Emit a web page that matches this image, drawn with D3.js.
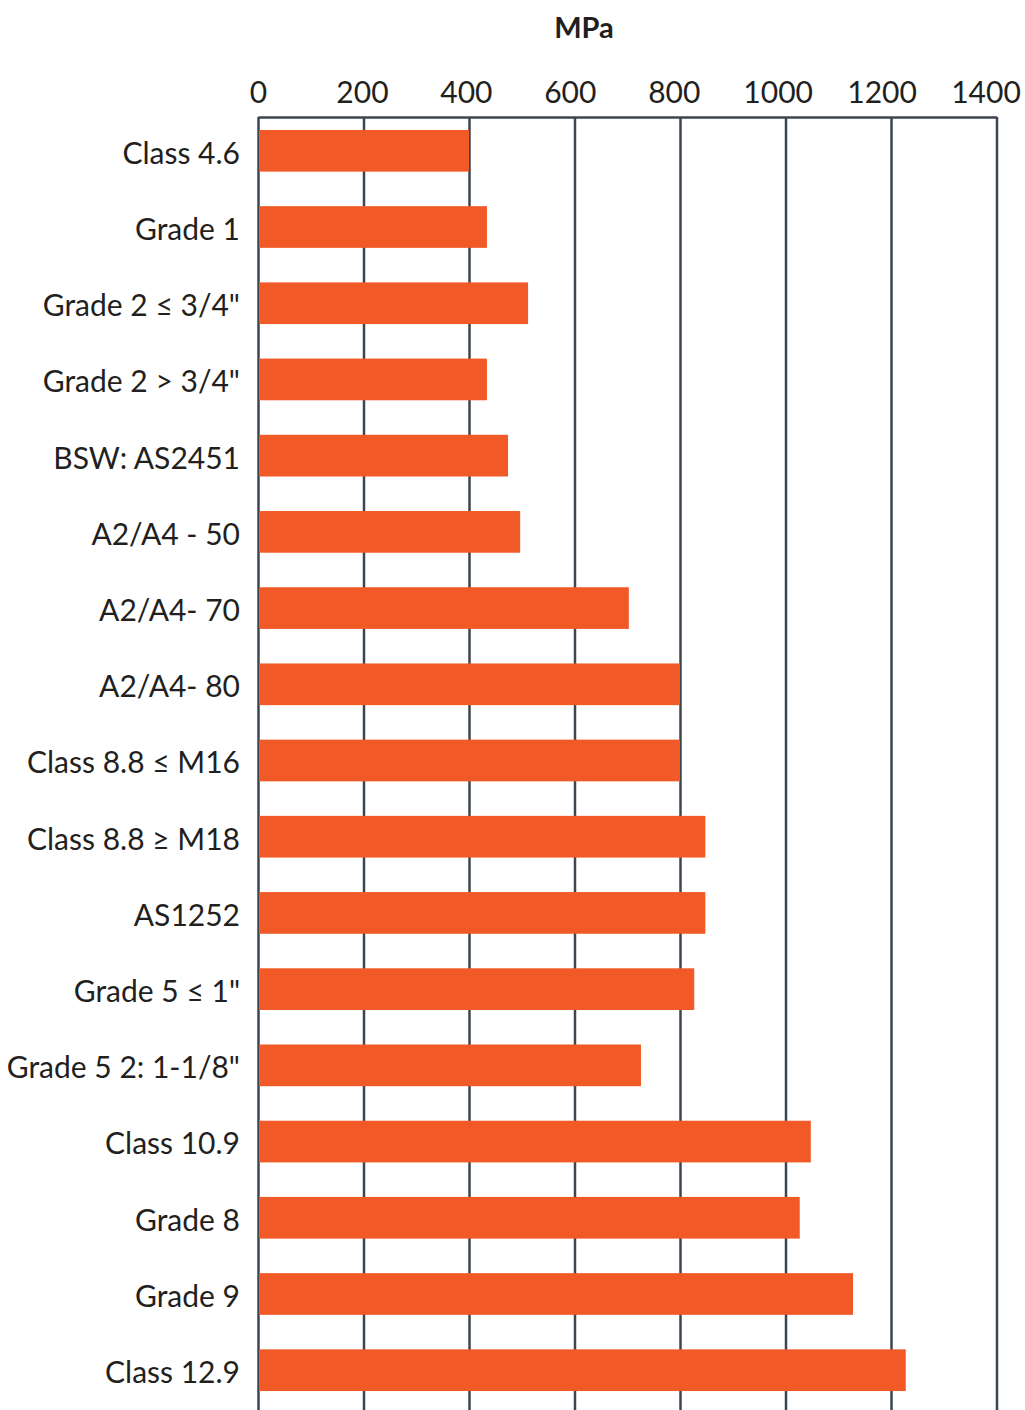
<!DOCTYPE html>
<html>
<head>
<meta charset="utf-8">
<script src="https://cdn.jsdelivr.net/npm/d3@7"></script>
<style>
  html, body { margin: 0; padding: 0; background: #ffffff; }
  svg { display: block; }
  text { font-family: Lato, "Open Sans", sans-serif; fill: #231f20; }
</style>
</head>
<body>
<svg id="chart" width="1025" height="1410"></svg>
<script>
// Tensile strength of fastener grades (MPa)
const categories = [
  "Class 4.6", "Grade 1", "Grade 2 \u2264 3/4\"", "Grade 2 > 3/4\"", "BSW: AS2451",
  "A2/A4 - 50", "A2/A4- 70", "A2/A4- 80", "Class 8.8 \u2264 M16", "Class 8.8 \u2265 M18",
  "AS1252", "Grade 5 \u2264 1\"", "Grade 5 2: 1-1/8\"", "Class 10.9", "Grade 8",
  "Grade 9", "Class 12.9"
];
const values = [400, 434, 512, 434, 474, 497, 703, 800, 800, 848, 848, 827, 726, 1048, 1027, 1128, 1228];
const tickValues = [0, 200, 400, 600, 800, 1000, 1200, 1400];
const axisTitle = "MPa";

const svg = d3.select("#chart");
const plotLeft = 258, plotRight = 996.5, plotTop = 117, plotBottom = 1410;

const x = d3.scaleLinear().domain([0, 1400]).range([plotLeft, plotRight]);
const y = d3.scaleBand().domain(categories).range([plotTop, 1404])
  .paddingInner(0.453).paddingOuter(0.17);

const gridColor = "#3c4650";
const barColor = "#f15a27";

// top axis with gridlines running down the plot
const xAxis = svg.append("g")
  .attr("transform", `translate(0,${plotTop})`)
  .call(d3.axisTop(x).tickValues(tickValues).tickFormat(d3.format("d"))
    .tickSizeInner(-(plotBottom - plotTop)).tickSizeOuter(0).tickPadding(14));
xAxis.select(".domain").attr("stroke", gridColor).attr("stroke-width", 2.5);
xAxis.selectAll(".tick line").attr("stroke", gridColor).attr("stroke-width", 2.5);
// labels drift slightly left towards the right end so "1400" stays inside the page
xAxis.selectAll(".tick text")
  .attr("font-size", 30).attr("fill", "#231f20")
  .attr("dx", d => -(d / 1400) * 11);

// bars
svg.append("g").selectAll("rect")
  .data(values)
  .join("rect")
  .attr("x", x(0) + 1)
  .attr("y", (d, i) => y(categories[i]))
  .attr("width", d => x(d) - x(0) - 1)
  .attr("height", y.bandwidth())
  .attr("fill", barColor);

// category labels
const yAxis = svg.append("g")
  .attr("transform", `translate(${plotLeft},0)`)
  .call(d3.axisLeft(y).tickSize(0).tickPadding(18));
yAxis.select(".domain").remove();
yAxis.selectAll(".tick text")
  .attr("font-size", 30).attr("fill", "#231f20")
  .attr("dy", "0.43em");

// axis title
svg.append("text")
  .attr("x", 584).attr("y", 38)
  .attr("text-anchor", "middle")
  .attr("font-size", 29).attr("font-weight", "bold")
  .text(axisTitle);
</script>
</body>
</html>
